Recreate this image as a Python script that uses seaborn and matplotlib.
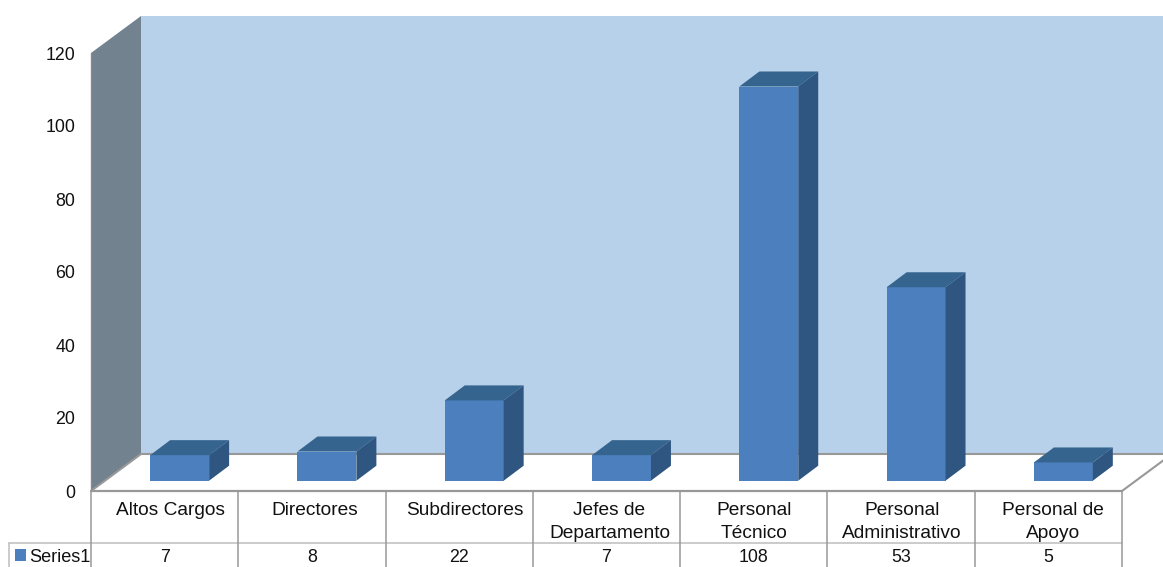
import matplotlib
matplotlib.use("Agg")
import matplotlib.pyplot as plt
from matplotlib.patches import Polygon, Patch
from matplotlib.transforms import offset_copy
import seaborn as sns

categories = ["Altos Cargos", "Directores", "Subdirectores", "Jefes de\nDepartamento",
              "Personal\nTécnico", "Personal\nAdministrativo", "Personal de\nApoyo"]
values = [7, 8, 22, 7, 108, 53, 5]
yticks = [0, 20, 40, 60, 80, 100, 120]
series_name = "Series1"
label_nudge_px = [6, 3, 6, 3, 0, 1, 5]

W, H = 1163, 567
FRONT, TOP, SIDE = "#4C7FBD", "#35658F", "#2F5680"
WALL, LEFT_WALL = "#B8D1EA", "#72828F"
GRID_D, GRID_L = "#989898", "#BDBDBD"
TXT = "#111111"
FS_NUM = 12.8
FS_CAT = 13.8
FS_LEG = 13.1

sns.set_theme(style="white")
plt.rcParams["font.family"] = ["Liberation Sans", "DejaVu Sans"]

fig = plt.figure(figsize=(W / 100, H / 100), dpi=100, facecolor="white")
ax = fig.add_axes([91 / W, (H - 491) / H, 1031 / W, 438 / H])
ax.patch.set_visible(False)

sns.barplot(x=categories, y=values, color=FRONT, saturation=1, width=0.4, ax=ax,
            linewidth=0, zorder=5)
ax.set_xlim(-0.5, 6.5)
ax.set_ylim(0, 120)

# scales: one category = 147.3 px, one unit = 3.65 px
px_x = 7 / 1031
px_y = 120 / 438
wall_dx, wall_dy = 50 * px_x, 37 * px_y
bar_dx, bar_dy = 20 * px_x, 15 * px_y
floor_lift = 10.3 * px_y
bar_shift = 15 * px_x

# walls and floor
x0, x1 = -0.5, 6.5
ax.add_patch(Polygon([(x0 + wall_dx, wall_dy), (x1 + wall_dx, wall_dy),
                      (x1 + wall_dx, 120 + wall_dy), (x0 + wall_dx, 120 + wall_dy)],
                     fc=WALL, ec="none", clip_on=False, zorder=1))
ax.add_patch(Polygon([(x0, 0), (x0 + wall_dx, wall_dy), (x0 + wall_dx, 120 + wall_dy), (x0, 120)],
                     fc=LEFT_WALL, ec="none", clip_on=False, zorder=1))
ax.plot([x0, x0 + wall_dx, x1 + wall_dx], [0, wall_dy, wall_dy], color=GRID_D, lw=1.5,
        clip_on=False, zorder=2, solid_joinstyle="miter")
ax.plot([x1, x1 + wall_dx], [0, wall_dy], color=GRID_D, lw=1.5, clip_on=False, zorder=2)
ax.plot([x0, x0], [0, 120], color="#8A8A8A", lw=1.0, clip_on=False, zorder=2)

# 3-D bars
bars = [p for p in ax.patches if p.get_zorder() == 5]
for patch, v in zip(bars, values):
    patch.set_x(patch.get_x() + bar_shift)
    patch.set_y(floor_lift)
    patch.set_clip_on(False)
    l, r = patch.get_x(), patch.get_x() + patch.get_width()
    b, t = floor_lift, floor_lift + v
    ax.add_patch(Polygon([(l, t), (r, t), (r + bar_dx, t + bar_dy), (l + bar_dx, t + bar_dy)],
                         fc=TOP, ec="none", clip_on=False, zorder=5))
    ax.add_patch(Polygon([(r, b), (r + bar_dx, b + bar_dy), (r + bar_dx, t + bar_dy), (r, t)],
                         fc=SIDE, ec="none", clip_on=False, zorder=5))

# axes
sns.despine(ax=ax, left=True, bottom=True, top=True, right=True)
ax.set_xlabel("")
ax.set_ylabel("")
ax.set_xticks([])
ax.set_yticks(yticks, [str(t) for t in yticks], fontsize=FS_NUM, color=TXT)
ax.tick_params(axis="y", length=0, pad=11.5)

# data table below the plot
row1 = -52 * px_y
row2 = -76 * px_y
legend_left = x0 - 82 * px_x
ax.plot([x0, x1], [0, 0], color=GRID_D, lw=1.6, clip_on=False, zorder=3)
ax.plot([legend_left, x1], [row1, row1], color=GRID_L, lw=1.1, clip_on=False, zorder=3)
ax.plot([legend_left, legend_left], [row1, row2], color=GRID_L, lw=1.1, clip_on=False, zorder=3)
for i in range(len(categories) + 1):
    ax.plot([x0 + i, x0 + i], [0, row2], color=GRID_D, lw=1.1, clip_on=False, zorder=3)

for i, (cat, v, nudge) in enumerate(zip(categories, values, label_nudge_px)):
    tr = offset_copy(ax.transData, fig=fig, x=nudge * 0.72, y=0, units="points")
    ax.text(i, -11 * px_y, cat, transform=tr, ha="center", va="top",
            fontsize=FS_CAT, color=TXT, linespacing=1.48, clip_on=False)
    ax.text(i, -66 * px_y, str(v), ha="center", va="center", fontsize=FS_NUM, color=TXT, clip_on=False)

leg = ax.legend(handles=[Patch(fc=FRONT, ec="none", label=series_name)],
                loc="center left", bbox_to_anchor=(15 / W, (H - 557) / H),
                bbox_transform=fig.transFigure, frameon=False, fontsize=FS_LEG,
                handlelength=0.62, handleheight=0.62, handletextpad=0.14,
                borderpad=0, borderaxespad=0)
for t in leg.get_texts():
    t.set_color(TXT)

fig.savefig("out.png", dpi=100)
